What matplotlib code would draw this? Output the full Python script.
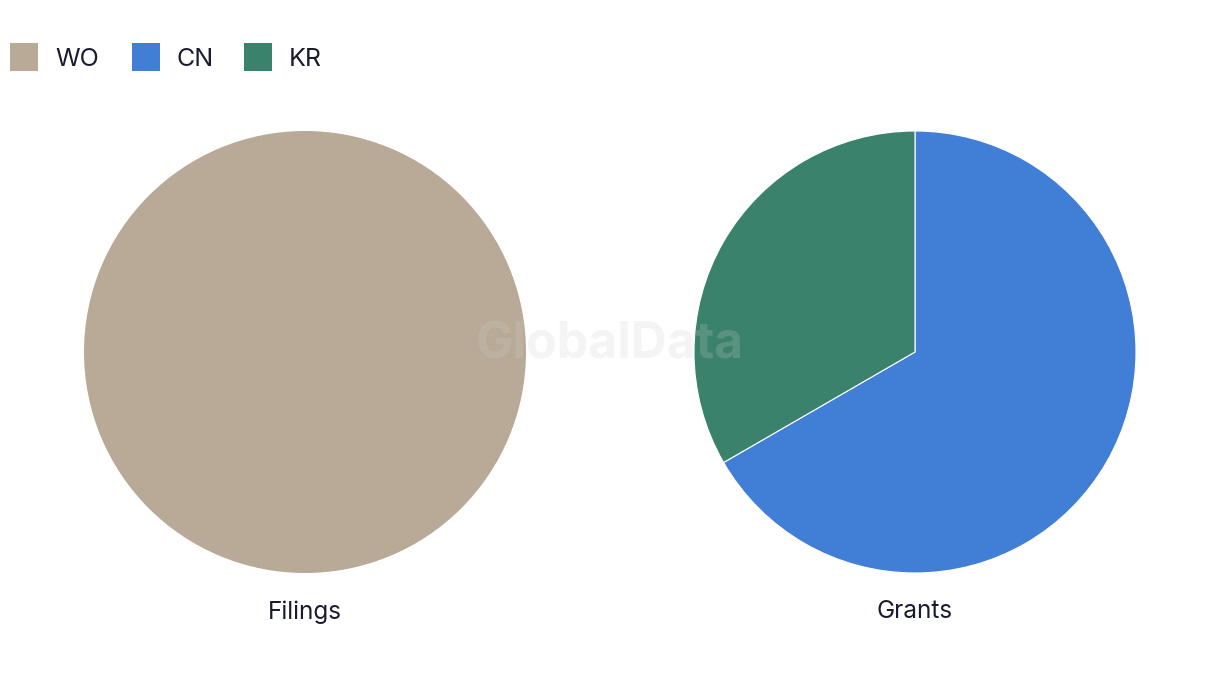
import matplotlib
matplotlib.use("Agg")
import matplotlib.pyplot as plt
from matplotlib.patches import Rectangle

plt.rcParams['font.family'] = ['Inter', 'DejaVu Sans']

categories = ["WO", "CN", "KR"]
colors = ["#b8aa96", "#417ed6", "#3a826b"]
filings = [1, 0, 0]
grants = [0, 2, 1]
chart_titles = ["Filings", "Grants"]

W, H = 1220, 686
fig = plt.figure(figsize=(W / 100, H / 100), dpi=100)
ax = fig.add_axes([0, 0, 1, 1])

text_color = "#1b1b2f"
R = 221
centers = [(305, H - 352), (915, H - 352)]

for vals, center, title in zip([filings, grants], centers, chart_titles):
    v = [x for x in vals if x > 0]
    c = [col for x, col in zip(vals, colors) if x > 0]
    ax.pie(v, colors=c, startangle=90, counterclock=False, center=center,
           radius=R, wedgeprops=dict(edgecolor="white", linewidth=0.8 if len(v) > 1 else 0))
    ax.text(center[0], H - 612, title, ha="center", va="center",
            fontsize=17.5, color=text_color)

# legend
lx = 10
for cat, col in zip(categories, colors):
    ax.add_patch(Rectangle((lx, H - 71), 28, 28, facecolor=col, edgecolor="none"))
    ax.text(lx + 45, H - 60, cat, ha="left", va="center", fontsize=18, color=text_color)
    lx += {"WO": 122, "CN": 112, "KR": 110}[cat]

# watermark
ax.text(610, H - 345, "GlobalData", ha="center", va="center", fontsize=36,
        fontweight="bold", color="#cfcfcf", alpha=0.22, zorder=10)

ax.set_xlim(0, W)
ax.set_ylim(0, H)
ax.set_aspect("auto")
ax.axis("off")

fig.savefig("out.png", dpi=100)
